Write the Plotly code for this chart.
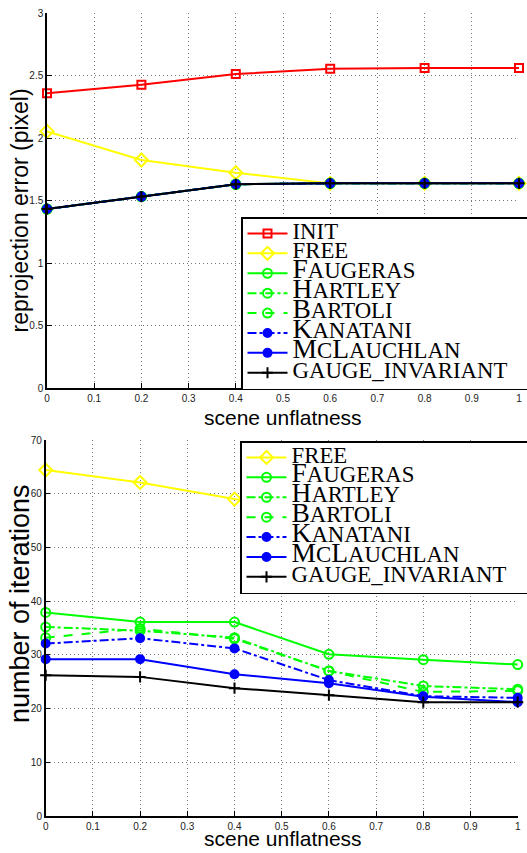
import plotly.graph_objects as go

# ---------------- data ----------------
x_unflat = [0.0, 0.2, 0.4, 0.6, 0.8, 1.0]

# top panel: reprojection error (pixel)
err_init = [2.358, 2.427, 2.512, 2.554, 2.560, 2.560]
err_free = [2.053, 1.824, 1.722, 1.637, 1.637, 1.637]
err_faugeras = [1.432, 1.531, 1.630, 1.637, 1.637, 1.637]
err_hartley = [1.432, 1.531, 1.630, 1.637, 1.637, 1.637]
err_bartoli = [1.432, 1.531, 1.630, 1.637, 1.637, 1.637]
err_kanatani = [1.432, 1.531, 1.630, 1.637, 1.637, 1.637]
err_mclauchlan = [1.432, 1.531, 1.630, 1.637, 1.637, 1.637]
err_gauge = [1.432, 1.531, 1.630, 1.637, 1.637, 1.637]

# bottom panel: number of iterations
it_free = [64.4, 62.1, 59.0, 55.6, 52.2, 48.9]
it_faugeras = [37.9, 36.1, 36.1, 30.1, 29.1, 28.2]
it_hartley = [35.2, 34.5, 33.2, 27.0, 24.2, 23.6]
it_bartoli = [33.2, 34.9, 33.0, 27.0, 23.1, 23.3]
it_kanatani = [32.1, 33.1, 31.2, 25.3, 22.3, 22.0]
it_mclauchlan = [29.2, 29.2, 26.4, 24.7, 22.2, 21.2]
it_gauge = [26.2, 25.9, 23.8, 22.5, 21.2, 21.2]

series_names = ["INIT", "FREE", "FAUGERAS", "HARTLEY", "BARTOLI",
                "KANATANI", "McLAUCHLAN", "GAUGE_INVARIANT"]

# ---------------- styles ----------------
SM = '<span style="font-size:22.8px">'
BG = '<span style="font-size:27.5px">'
E = '</span>'
PAD = '\u2003\u2003'
legend_labels = {
    "INIT": SM + "INIT" + E,
    "FREE": SM + "FREE" + E,
    "FAUGERAS": BG + "F" + E + SM + "AUGERAS" + E,
    "HARTLEY": BG + "H" + E + SM + "ARTLEY" + E,
    "BARTOLI": BG + "B" + E + SM + "ARTOLI" + E,
    "KANATANI": BG + "K" + E + SM + "ANATANI" + E,
    "McLAUCHLAN": BG + "M" + E + SM + "C" + E + BG + "L" + E + SM + "AUCHLAN" + E,
    "GAUGE_INVARIANT": SM + "GAUGE_INVARIANT" + E + PAD,
}
styles = {
    "INIT": dict(color="#ff0000", dash="solid", symbol="square-open", size=8),
    "FREE": dict(color="#ffff00", dash="solid", symbol="diamond-open", size=10),
    "FAUGERAS": dict(color="#00ff00", dash="solid", symbol="circle-open", size=9),
    "HARTLEY": dict(color="#00ff00", dash="dashdot", symbol="circle-open", size=9),
    "BARTOLI": dict(color="#00ff00", dash="dash", symbol="circle-open", size=9),
    "KANATANI": dict(color="#0000ff", dash="dashdot", symbol="circle", size=8),
    "McLAUCHLAN": dict(color="#0000ff", dash="solid", symbol="circle", size=8),
    "GAUGE_INVARIANT": dict(color="#000000", dash="solid", symbol="cross-thin", size=8),
}

top_data = {
    "INIT": err_init, "FREE": err_free, "FAUGERAS": err_faugeras,
    "HARTLEY": err_hartley, "BARTOLI": err_bartoli, "KANATANI": err_kanatani,
    "McLAUCHLAN": err_mclauchlan, "GAUGE_INVARIANT": err_gauge,
}
bottom_data = {
    "FREE": it_free, "FAUGERAS": it_faugeras, "HARTLEY": it_hartley,
    "BARTOLI": it_bartoli, "KANATANI": it_kanatani,
    "McLAUCHLAN": it_mclauchlan, "GAUGE_INVARIANT": it_gauge,
}

fig = go.Figure()


def add_series(name, yvals, xa, ya, legend):
    st = styles[name]
    mline = dict(color=st["color"], width=2)
    fig.add_trace(go.Scatter(
        x=x_unflat, y=yvals, xaxis=xa, yaxis=ya,
        mode="lines+markers", name=legend_labels[name], legend=legend,
        line=dict(color=st["color"], width=2, dash=st["dash"]),
        marker=dict(symbol=st["symbol"], size=st["size"], color=st["color"], line=mline),
        cliponaxis=False,
    ))


for n in series_names:
    if n in top_data:
        add_series(n, top_data[n], "x", "y", "legend")
for n in series_names:
    if n in bottom_data:
        add_series(n, bottom_data[n], "x2", "y2", "legend2")

W, H = 527, 853
tickfont = dict(family="Liberation Sans, Arial, sans-serif", size=10, color="#222")
GRID = dict(showgrid=True, gridcolor="#777", griddash="1px,3px", gridwidth=1)
common_x = dict(range=[0, 1], dtick=0.1, tick0=0, showline=True, linecolor="black",
                linewidth=1.5, ticks="inside", ticklen=5, tickcolor="black",
                tickfont=tickfont, zeroline=False, mirror=False, automargin=False, **GRID)
common_y = dict(showline=True, linecolor="black", linewidth=1.5, ticks="inside",
                ticklen=5, tickcolor="black", tickfont=tickfont, zeroline=False,
                automargin=False, **GRID)

xdom = [47 / W, 519 / W]
xdom2 = [45.7 / W, 517.7 / W]

legend_common = dict(
    bgcolor="white", bordercolor="black", borderwidth=1.5,
    font=dict(family="Liberation Serif, Times New Roman, serif", size=13, color="black"),
    xanchor="left", yanchor="top", traceorder="normal", tracegroupgap=0,
    itemwidth=40,
)

fig.update_layout(
    width=W, height=H, margin=dict(l=0, r=0, t=0, b=0, autoexpand=False),
    paper_bgcolor="white", plot_bgcolor="white",
    xaxis=dict(domain=xdom, anchor="y", **common_x),
    yaxis=dict(domain=[(H - 388) / H, (H - 13) / H], anchor="x", range=[0, 3],
               dtick=0.5, **common_y),
    xaxis2=dict(domain=xdom2, anchor="y2", **common_x),
    yaxis2=dict(domain=[(H - 816) / H, (H - 440) / H], anchor="x2", range=[0, 70],
                dtick=10, **common_y),
    legend=dict(x=241 / W, y=(H - 217) / H, **legend_common),
    legend2=dict(x=240 / W, y=(H - 441) / H, **legend_common),
    showlegend=True,
)

title_font = "Liberation Sans, Arial, sans-serif"
fig.add_annotation(text="reprojection error (pixel)", xref="paper", yref="paper",
                   x=20 / W, y=(H - 210.5) / H, textangle=-90, showarrow=False,
                   font=dict(family=title_font, size=23, color="black"),
                   xanchor="center", yanchor="middle")
fig.add_annotation(text="number of iterations", xref="paper", yref="paper",
                   x=20 / W, y=(H - 604) / H, textangle=-90, showarrow=False,
                   font=dict(family=title_font, size=27, color="black"),
                   xanchor="center", yanchor="middle")
fig.add_annotation(text="scene unflatness", xref="paper", yref="paper",
                   x=283 / W, y=(H - 417) / H, showarrow=False,
                   font=dict(family=title_font, size=21, color="black"),
                   xanchor="center", yanchor="middle")
fig.add_annotation(text="scene unflatness", xref="paper", yref="paper",
                   x=283 / W, y=(H - 838) / H, showarrow=False,
                   font=dict(family=title_font, size=21, color="black"),
                   xanchor="center", yanchor="middle")

fig.write_html("out.html", config={"displayModeBar": False},
               post_script="document.body.style.margin='0';document.body.style.padding='0';")
